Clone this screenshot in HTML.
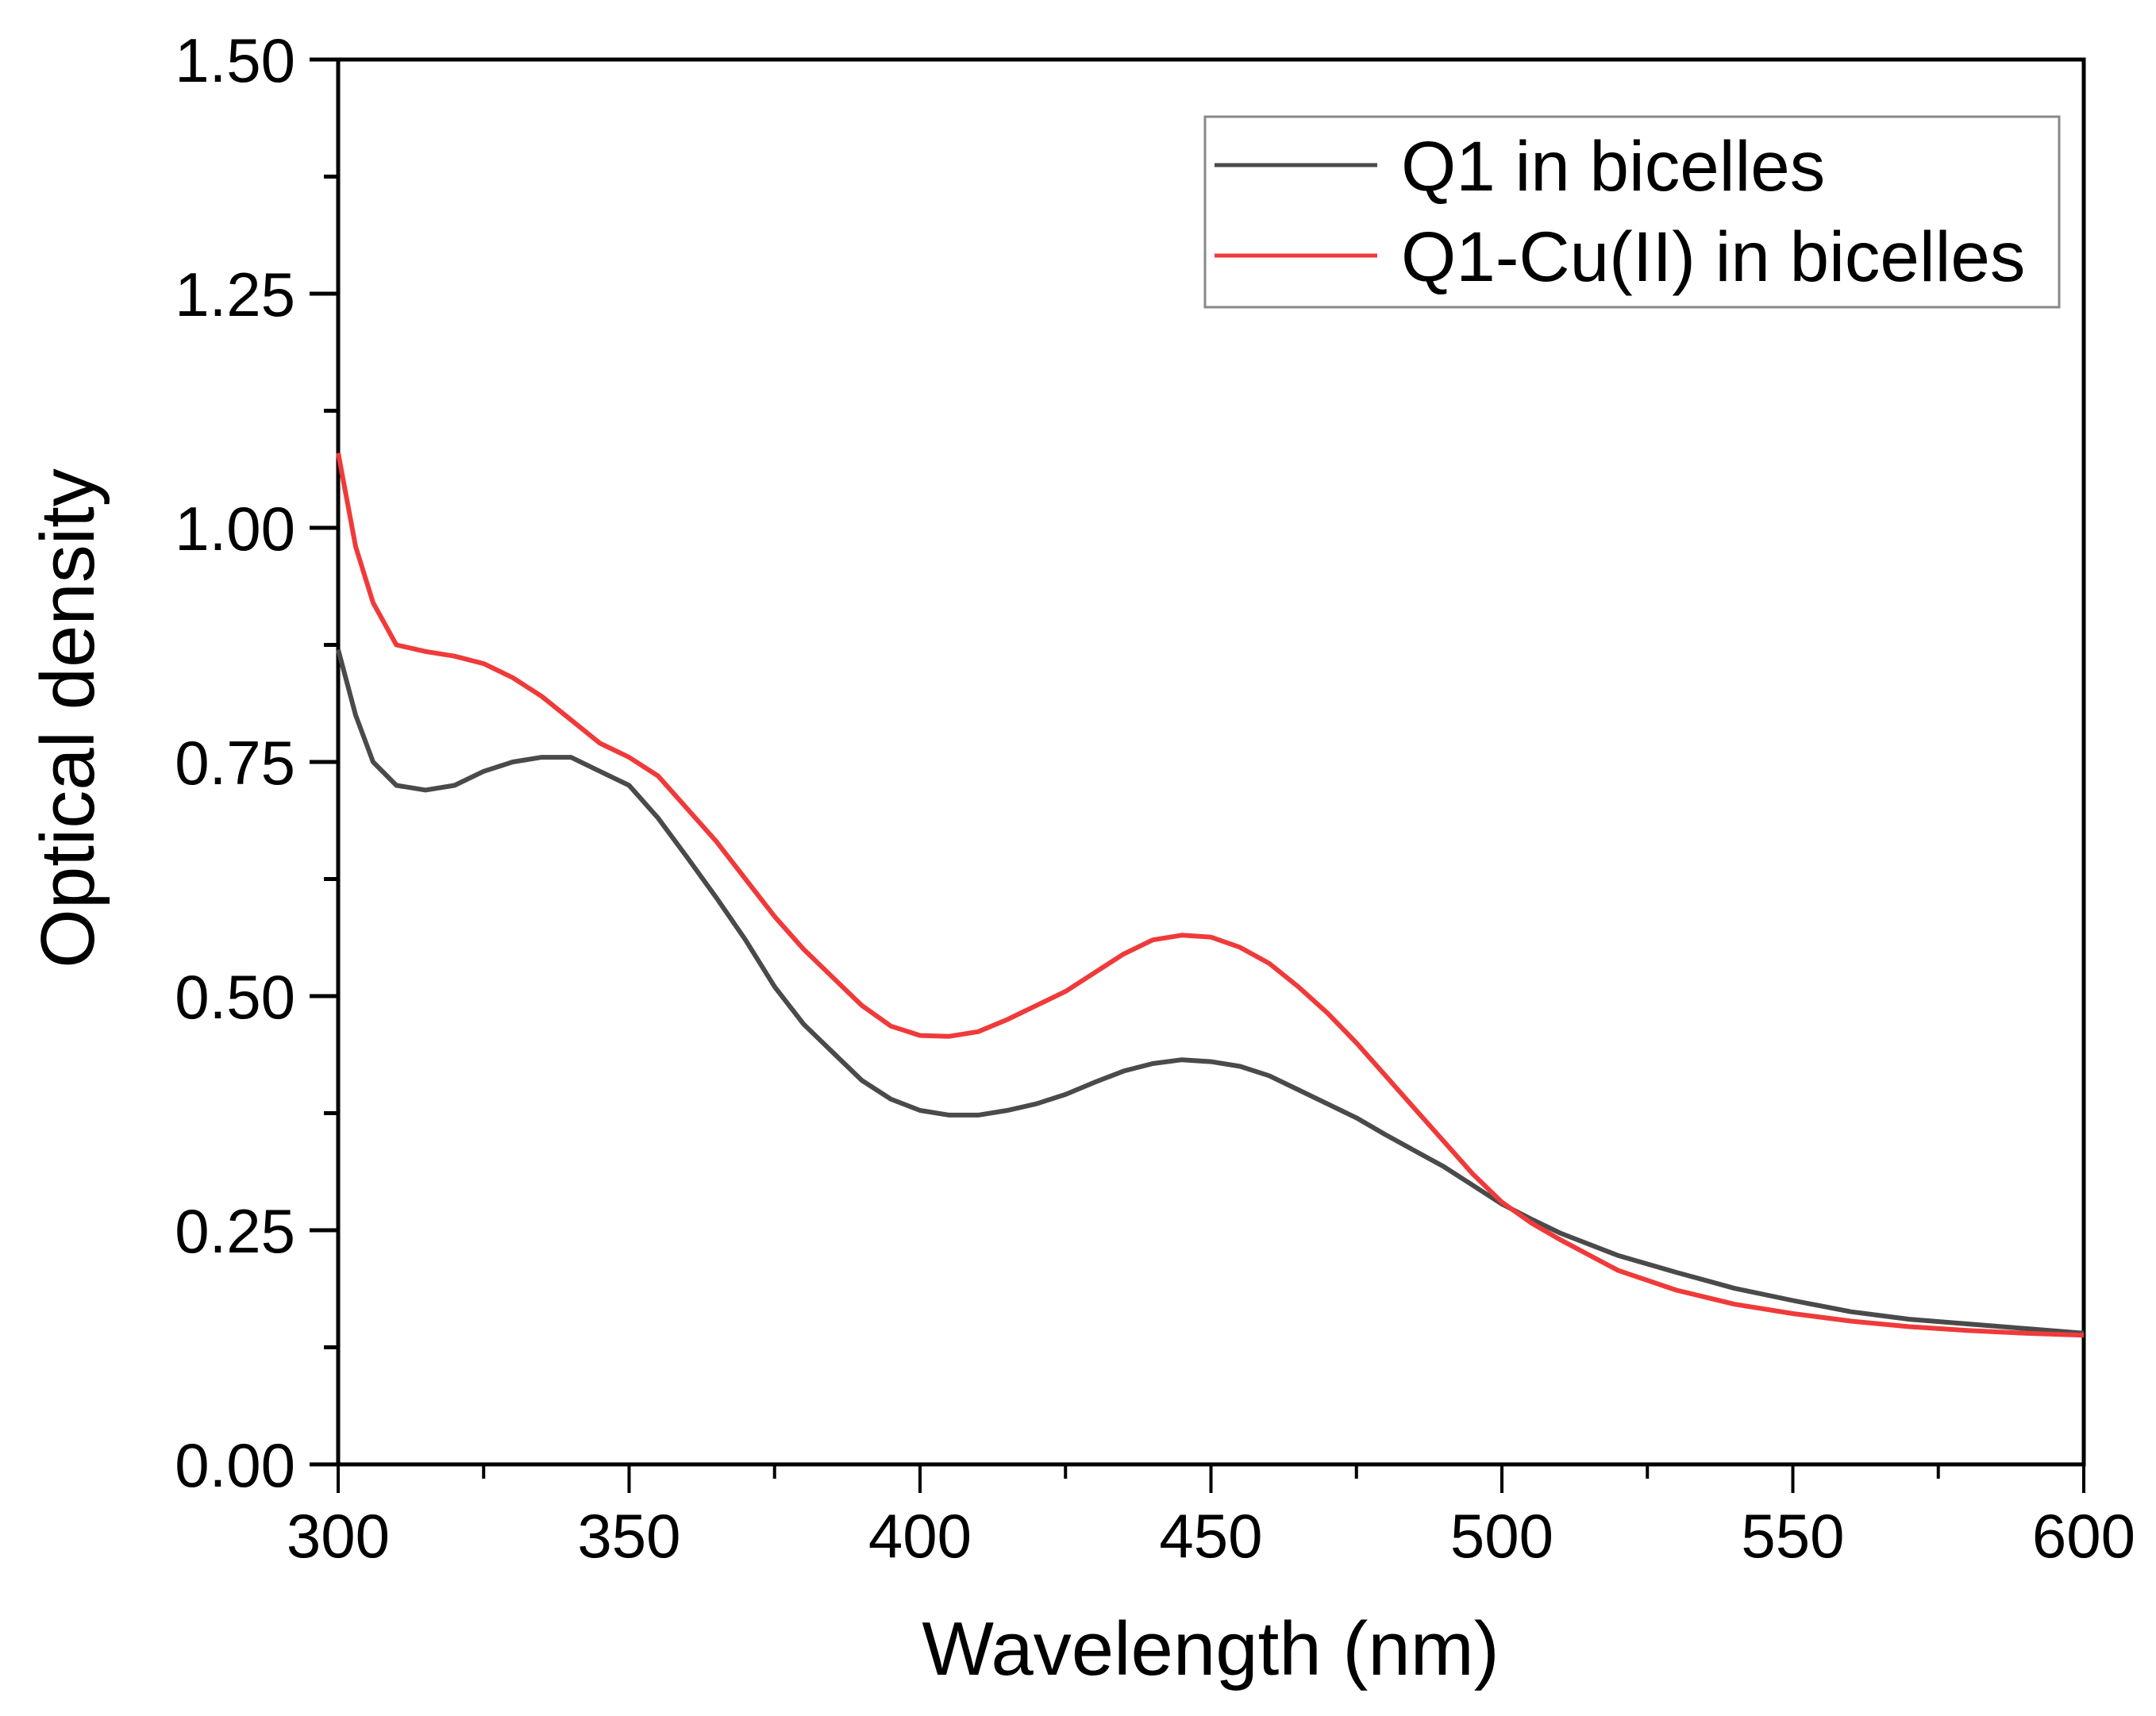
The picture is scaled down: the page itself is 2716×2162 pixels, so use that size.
<!DOCTYPE html>
<html><head><meta charset="utf-8"><style>
html,body{margin:0;padding:0;background:#fff}
svg{display:block}
text{font-family:"Liberation Sans",Arial,sans-serif;fill:#000}
</style></head><body>
<svg id="chart" width="2716" height="2162" viewBox="0 0 2716 2162" xmlns="http://www.w3.org/2000/svg">
<g id="axes"></g>
<g id="series"></g>
<text x="1525" y="2110" font-size="96" text-anchor="middle">Wavelength (nm)</text>
<text transform="translate(118,905) rotate(-90)" font-size="96" text-anchor="middle">Optical density</text>
<g>
<rect x="1518" y="147" width="1076" height="240" fill="#fff" stroke="#888" stroke-width="3"/>
<line x1="1530" y1="208" x2="1735" y2="208" stroke="#4a4a4a" stroke-width="5"/>
<text x="1765" y="240" font-size="89">Q1 in bicelles</text>
<line x1="1530" y1="322" x2="1735" y2="322" stroke="#f03a3a" stroke-width="5"/>
<text x="1765" y="354" font-size="89">Q1-Cu(II) in bicelles</text>
</g>
</svg>
<script>
const xTicks = [300,350,400,450,500,550,600];
const yTicks = [0,0.25,0.5,0.75,1.0,1.25,1.5];
const yTickLabels = ["0.00","0.25","0.50","0.75","1.00","1.25","1.50"];
const wavelengths = [300,303,306,310,315,320,325,330,335,340,345,350,355,360,365,370,375,380,385,390,395,400,405,410,415,420,425,430,435,440,445,450,455,460,465,470,475,480,485,490,495,500,505,510,520,530,540,550,560,570,580,590,600];
const q1 = [0.87,0.80,0.75,0.725,0.72,0.725,0.74,0.75,0.755,0.755,0.74,0.725,0.69,0.648,0.605,0.56,0.51,0.47,0.44,0.41,0.39,0.378,0.373,0.373,0.378,0.385,0.395,0.408,0.42,0.428,0.432,0.43,0.425,0.415,0.40,0.385,0.37,0.352,0.335,0.318,0.298,0.278,0.262,0.247,0.223,0.205,0.188,0.175,0.163,0.155,0.15,0.145,0.14];
const q1cu = [1.08,0.98,0.92,0.875,0.868,0.863,0.855,0.84,0.82,0.795,0.77,0.755,0.735,0.70,0.665,0.625,0.585,0.55,0.52,0.49,0.468,0.458,0.457,0.462,0.475,0.49,0.505,0.525,0.545,0.56,0.565,0.563,0.552,0.535,0.51,0.482,0.45,0.415,0.38,0.345,0.31,0.28,0.258,0.24,0.207,0.186,0.171,0.161,0.153,0.147,0.143,0.14,0.138];

const X0=426,X1=2625,Y0=1845,Y1=75;
const sx=v=>X0+(v-300)/300*(X1-X0);
const sy=v=>Y0-(v/1.5)*(Y0-Y1);
const NS='http://www.w3.org/2000/svg';
const axes=document.getElementById('axes');
function mk(tag,attrs,parent){const e=document.createElementNS(NS,tag);for(const k in attrs)e.setAttribute(k,attrs[k]);parent.appendChild(e);return e;}

let frame=mk('rect',{x:X0,y:Y1,width:X1-X0,height:Y0-Y1,fill:'none',stroke:'#000','stroke-width':5},axes);



for(let v=300;v<=600;v+=25){
  const major=(v%50===0);
  const t=mk('line',{x1:sx(v),x2:sx(v),y1:Y0,y2:Y0+(major?36:18),stroke:'#000','stroke-width':4},axes);
  
  
}
xTicks.forEach(v=>{
  const t=mk('text',{x:sx(v),y:1962,'font-size':78,'text-anchor':'middle'},axes);
  t.textContent=v;
  
  
});
for(let i=0;i<=12;i++){
  const v=i*0.125, major=(i%2===0);
  const t=mk('line',{x1:X0-(major?36:18),x2:X0,y1:sy(v),y2:sy(v),stroke:'#000','stroke-width':5},axes);
  
  
}
yTicks.forEach((v,i)=>{
  const t=mk('text',{x:372,y:sy(v)+28,'font-size':78,'text-anchor':'end'},axes);
  t.textContent=yTickLabels[i];
  
  
});

const series=document.getElementById('series');
function draw(vals,color,name){
  const d=wavelengths.map((w,i)=>(i?'L':'M')+sx(w).toFixed(1)+' '+sy(vals[i]).toFixed(1)).join(' ');
  const p=mk('path',{d:d,fill:'none',stroke:color,'stroke-width':6,'stroke-linejoin':'round'},series);
  
  
}
draw(q1,'#4a4a4a','line-q1');
draw(q1cu,'#f03a3a','line-q1-cu');
</script>
</body></html>
